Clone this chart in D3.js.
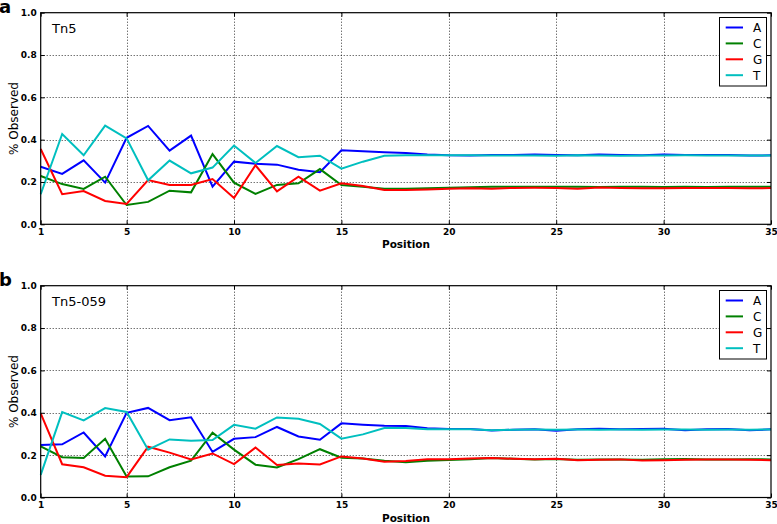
<!DOCTYPE html>
<html><head><meta charset="utf-8">
<script src="https://cdn.jsdelivr.net/npm/d3@7"></script>
<style>
body{margin:0;background:#fff;}
svg{display:block;font-family:"DejaVu Sans",sans-serif;}
</style></head><body>
<svg id="c" width="777" height="524"></svg>
<script>
const positions = d3.range(1, 36);
const bases = ["A","C","G","T"];
const colors = {A:"#0000ff", C:"#008000", G:"#ff0000", T:"#00bfbf"};
const xTicks = [1,5,10,15,20,25,30,35];
const yTicks = [0,0.2,0.4,0.6,0.8,1.0];

const tn5_A = [0.272,0.238,0.302,0.197,0.409,0.465,0.348,0.419,0.178,0.296,0.286,0.282,0.258,0.246,0.350,0.345,0.340,0.337,0.330,0.326,0.325,0.328,0.327,0.330,0.327,0.326,0.330,0.327,0.326,0.330,0.327,0.328,0.327,0.325,0.326];
const tn5_C = [0.228,0.190,0.167,0.225,0.091,0.106,0.159,0.151,0.332,0.197,0.144,0.186,0.194,0.261,0.186,0.178,0.168,0.168,0.170,0.173,0.175,0.178,0.177,0.178,0.177,0.178,0.176,0.177,0.178,0.176,0.177,0.176,0.177,0.178,0.177];
const tn5_G = [0.356,0.142,0.157,0.110,0.096,0.209,0.186,0.186,0.214,0.124,0.279,0.156,0.225,0.159,0.194,0.181,0.162,0.162,0.165,0.168,0.170,0.168,0.172,0.173,0.172,0.168,0.174,0.172,0.170,0.170,0.172,0.171,0.172,0.170,0.171];
const tn5_T = [0.142,0.427,0.326,0.466,0.406,0.208,0.301,0.241,0.268,0.372,0.290,0.370,0.317,0.324,0.263,0.296,0.324,0.326,0.326,0.326,0.326,0.325,0.325,0.325,0.324,0.326,0.325,0.324,0.325,0.325,0.326,0.325,0.325,0.325,0.325];

const tn5059_A = [0.248,0.251,0.307,0.194,0.400,0.423,0.365,0.379,0.215,0.277,0.285,0.333,0.288,0.273,0.350,0.344,0.339,0.338,0.327,0.323,0.323,0.316,0.320,0.322,0.315,0.322,0.325,0.322,0.324,0.325,0.318,0.322,0.323,0.317,0.322];
const tn5059_C = [0.241,0.190,0.187,0.277,0.099,0.100,0.143,0.174,0.306,0.226,0.155,0.142,0.181,0.228,0.188,0.184,0.173,0.166,0.173,0.177,0.181,0.186,0.183,0.179,0.182,0.178,0.180,0.179,0.178,0.181,0.182,0.180,0.179,0.181,0.180];
const tn5059_G = [0.397,0.157,0.143,0.103,0.096,0.240,0.212,0.180,0.208,0.158,0.236,0.153,0.161,0.156,0.194,0.184,0.169,0.172,0.181,0.181,0.184,0.186,0.183,0.181,0.183,0.176,0.178,0.180,0.175,0.176,0.178,0.180,0.179,0.178,0.176];
const tn5059_T = [0.107,0.403,0.364,0.422,0.404,0.226,0.274,0.268,0.271,0.343,0.325,0.378,0.372,0.347,0.278,0.298,0.328,0.328,0.322,0.322,0.322,0.317,0.320,0.321,0.320,0.321,0.320,0.321,0.320,0.321,0.321,0.320,0.321,0.320,0.321];

const panels = [
  {letter:"a", title:"Tn5", top:12.7, bottom:224.3, series:{A:tn5_A,C:tn5_C,G:tn5_G,T:tn5_T}},
  {letter:"b", title:"Tn5-059", top:285.7, bottom:497.5, series:{A:tn5059_A,C:tn5059_C,G:tn5059_G,T:tn5059_T}}
];

const svg = d3.select("#c");
const left = 40.7, right = 771;
const x = d3.scaleLinear().domain([1,35]).range([left,right]);

panels.forEach(p => {
  const y = d3.scaleLinear().domain([0,1]).range([p.bottom,p.top]);
  const g = svg.append("g");
  // grid
  g.append("g").selectAll("line").data(xTicks.filter(t=>t>1&&t<35)).join("line")
    .attr("x1",d=>Math.round(x(d))+0.5).attr("x2",d=>Math.round(x(d))+0.5)
    .attr("y1",p.top).attr("y2",p.bottom)
    .attr("stroke","#000").attr("stroke-width",0.8).attr("stroke-dasharray","1,2");
  g.append("g").selectAll("line").data(yTicks.filter(t=>t>0&&t<1)).join("line")
    .attr("y1",d=>Math.round(y(d))+0.5).attr("y2",d=>Math.round(y(d))+0.5)
    .attr("x1",left).attr("x2",right)
    .attr("stroke","#000").attr("stroke-width",0.8).attr("stroke-dasharray","1,2");
  // lines
  const line = d3.line().x((d,i)=>x(positions[i])).y(d=>y(d));
  bases.forEach(b => {
    g.append("path").datum(p.series[b]).attr("d",line)
      .attr("fill","none").attr("stroke",colors[b]).attr("stroke-width",2)
      .attr("stroke-linejoin","miter");
  });
  // axes
  const xa = g.append("g").attr("transform",`translate(0,${p.bottom})`)
    .call(d3.axisBottom(x).tickValues(xTicks).tickSize(-4).tickPadding(4).tickFormat(d3.format("d")));
  const ya = g.append("g").attr("transform",`translate(${left},0)`)
    .call(d3.axisLeft(y).tickValues(yTicks).tickSize(-4).tickPadding(4).tickFormat(d3.format(".1f")));
  const xt = g.append("g").attr("transform",`translate(0,${p.top})`)
    .call(d3.axisTop(x).tickValues(xTicks).tickSize(-4).tickFormat(""));
  const yr = g.append("g").attr("transform",`translate(${right},0)`)
    .call(d3.axisRight(y).tickValues(yTicks).tickSize(-4).tickFormat(""));
  [xa,ya,xt,yr].forEach(a => {
    a.select(".domain").remove();
    a.selectAll("line").attr("stroke","#000");
    a.selectAll("text").attr("font-size",9).attr("font-weight","bold").attr("fill","#000")
      .attr("font-family","DejaVu Sans");
  });
  // frame
  g.append("rect").attr("x",left).attr("y",p.top).attr("width",right-left).attr("height",p.bottom-p.top)
    .attr("fill","none").attr("stroke","#000").attr("stroke-width",1.2);
  // labels
  g.append("text").attr("x",406).attr("y",p.bottom+24).attr("text-anchor","middle")
    .attr("font-size",10.5).attr("font-weight","bold").text("Position");
  g.append("text").attr("transform",`translate(17.5,${(p.top+p.bottom)/2}) rotate(-90)`)
    .attr("text-anchor","middle").attr("font-size",12).text("% Observed");
  g.append("text").attr("x",52).attr("y",p.top+20).attr("font-size",13).text(p.title);
  g.append("text").attr("x",-1).attr("y",p.top).attr("font-size",18).attr("font-weight","bold").text(p.letter);
  // legend
  const lg = g.append("g");
  lg.append("rect").attr("x",719.5).attr("y",p.top+4.8).attr("width",47).attr("height",68.5)
    .attr("fill","#fff").attr("stroke","#000").attr("stroke-width",1);
  bases.forEach((b,i) => {
    const yy = p.top + 14.8 + i*15.9;
    lg.append("line").attr("x1",725.7).attr("x2",743).attr("y1",yy).attr("y2",yy)
      .attr("stroke",colors[b]).attr("stroke-width",2);
    lg.append("text").attr("x",753).attr("y",yy+4.5).attr("font-size",12).text(b);
  });
});
</script>
</body></html>
